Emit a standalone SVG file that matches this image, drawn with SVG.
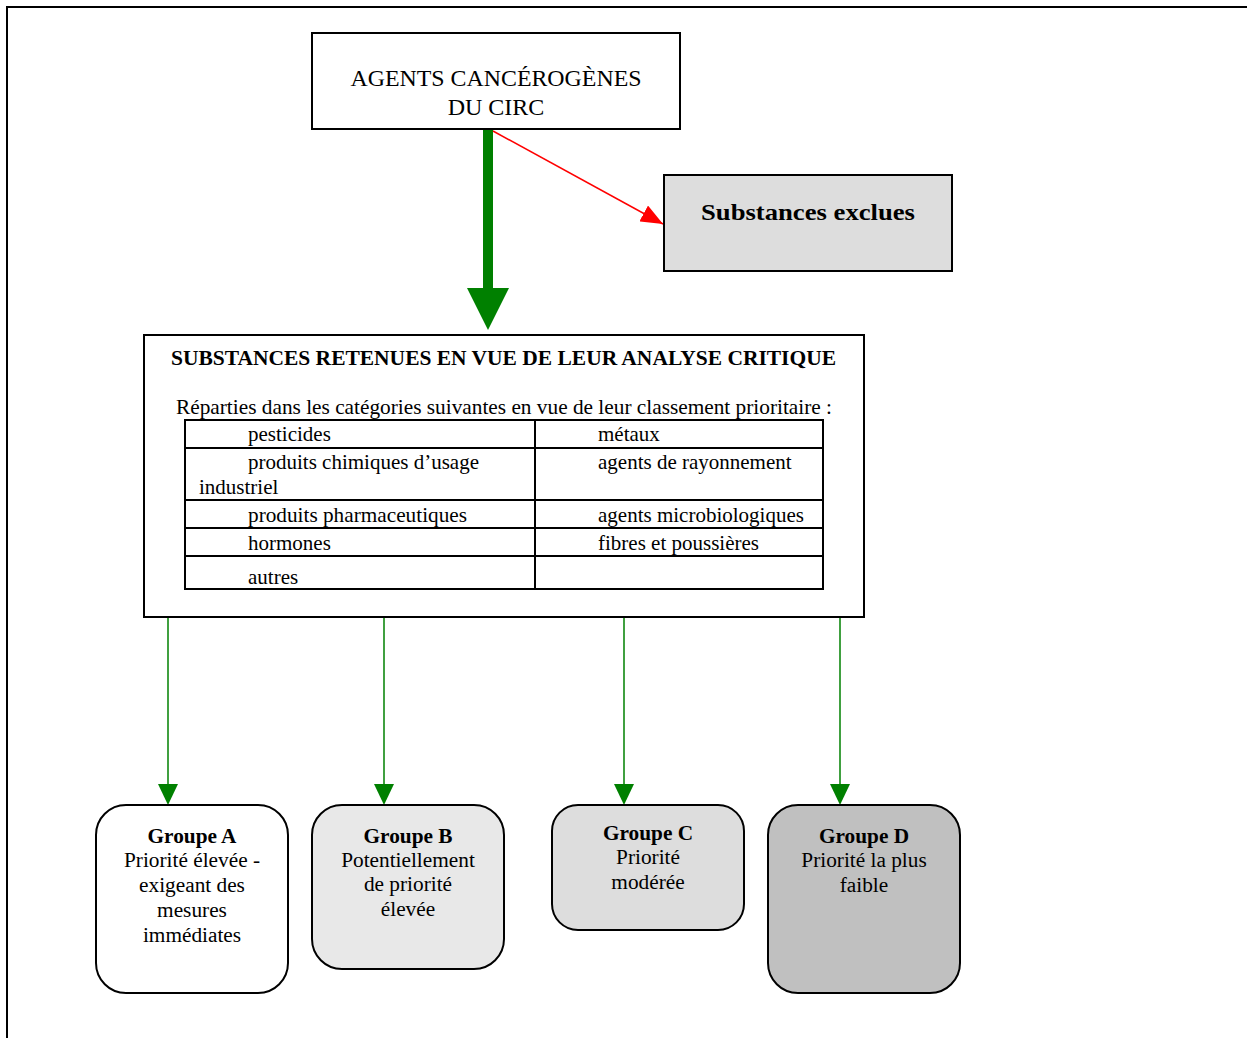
<svg xmlns="http://www.w3.org/2000/svg" width="1247" height="1038" viewBox="0 0 1247 1038">
<style>
text{font-family:"Liberation Serif","Times New Roman",serif;fill:#000}
.box{stroke:#000;stroke-width:2}
.c{text-anchor:middle}
.b{font-weight:bold}
.t{font-size:21px}
.g{font-size:21.3px;text-anchor:middle}
.tbl{fill:none;stroke:#000;stroke-width:2}
</style>
<defs>
<marker id="ar" markerWidth="22" markerHeight="18" refX="22" refY="9" orient="auto" markerUnits="userSpaceOnUse" viewBox="0 0 22 18">
<path d="M0,0 L22,9 L0,18 z" fill="#ff0000"/>
</marker>
</defs>
<rect width="1247" height="1038" fill="#fff"/>
<path d="M7,1038 V7 H1247" fill="none" stroke="#000" stroke-width="2"/>

<g id="connectors">
<rect x="483" y="129" width="10" height="160" fill="#008000"/>
<path d="M467,288 L509,288 L488,330 z" fill="#008000"/>
<line x1="493" y1="131" x2="663" y2="224" stroke="#ff0000" stroke-width="1.5" marker-end="url(#ar)"/>
<g stroke="#008000" stroke-width="1.5">
<line x1="168" y1="617" x2="168" y2="784"/>
<line x1="384" y1="617" x2="384" y2="784"/>
<line x1="624" y1="617" x2="624" y2="784"/>
<line x1="840" y1="617" x2="840" y2="784"/>
</g>
<g fill="#008000">
<path d="M158,784 L178,784 L168,805 z"/>
<path d="M374,784 L394,784 L384,805 z"/>
<path d="M614,784 L634,784 L624,805 z"/>
<path d="M830,784 L850,784 L840,805 z"/>
</g>
</g>

<g id="agents">
<rect class="box" x="312" y="33" width="368" height="96" fill="#fff"/>
<text class="c" x="496" y="86" font-size="24" textLength="291" lengthAdjust="spacingAndGlyphs">AGENTS CANCÉROGÈNES</text>
<text class="c" x="496" y="115" font-size="24">DU CIRC</text>
</g>

<g id="exclues">
<rect class="box" x="664" y="175" width="288" height="96" fill="#dddddd"/>
<text class="c b" x="808" y="220" font-size="24" textLength="214" lengthAdjust="spacingAndGlyphs">Substances exclues</text>
</g>

<g id="retenues">
<rect class="box" x="144" y="335" width="720" height="282" fill="#fff"/>
<text class="b" x="171" y="365" font-size="20" textLength="665" lengthAdjust="spacingAndGlyphs">SUBSTANCES RETENUES EN VUE DE LEUR ANALYSE CRITIQUE</text>
<text class="t" x="176" y="414" textLength="656" lengthAdjust="spacingAndGlyphs">Réparties dans les catégories suivantes en vue de leur classement prioritaire :</text>
<rect class="tbl" x="185" y="420" width="638" height="169"/>
<path class="tbl" d="M535,420 V589 M185,448 H823 M185,500 H823 M185,528 H823 M185,556 H823"/>
<text class="t" x="248" y="441">pesticides</text>
<text class="t" x="598" y="441">métaux</text>
<text class="t" x="248" y="469">produits chimiques d’usage</text>
<text class="t" x="199" y="494">industriel</text>
<text class="t" x="598" y="469">agents de rayonnement</text>
<text class="t" x="248" y="522" textLength="219" lengthAdjust="spacingAndGlyphs">produits pharmaceutiques</text>
<text class="t" x="598" y="522">agents microbiologiques</text>
<text class="t" x="248" y="550">hormones</text>
<text class="t" x="598" y="550">fibres et poussières</text>
<text class="t" x="248" y="584">autres</text>
</g>

<g id="groupeA">
<rect class="box" x="96" y="805" width="192" height="188" rx="30" fill="#fff"/>
<text class="g b" x="192" y="843">Groupe A</text>
<text class="g" x="192" y="867">Priorité élevée -</text>
<text class="g" x="192" y="892">exigeant des</text>
<text class="g" x="192" y="917">mesures</text>
<text class="g" x="192" y="942">immédiates</text>
</g>

<g id="groupeB">
<rect class="box" x="312" y="805" width="192" height="164" rx="30" fill="#e8e8e8"/>
<text class="g b" x="408" y="843">Groupe B</text>
<text class="g" x="408" y="867">Potentiellement</text>
<text class="g" x="408" y="891">de priorité</text>
<text class="g" x="408" y="916">élevée</text>
</g>

<g id="groupeC">
<rect class="box" x="552" y="805" width="192" height="125" rx="26" fill="#dddddd"/>
<text class="g b" x="648" y="840">Groupe C</text>
<text class="g" x="648" y="864">Priorité</text>
<text class="g" x="648" y="889">modérée</text>
</g>

<g id="groupeD">
<rect class="box" x="768" y="805" width="192" height="188" rx="30" fill="#c0c0c0"/>
<text class="g b" x="864" y="843">Groupe D</text>
<text class="g" x="864" y="867">Priorité la plus</text>
<text class="g" x="864" y="892">faible</text>
</g>
</svg>
